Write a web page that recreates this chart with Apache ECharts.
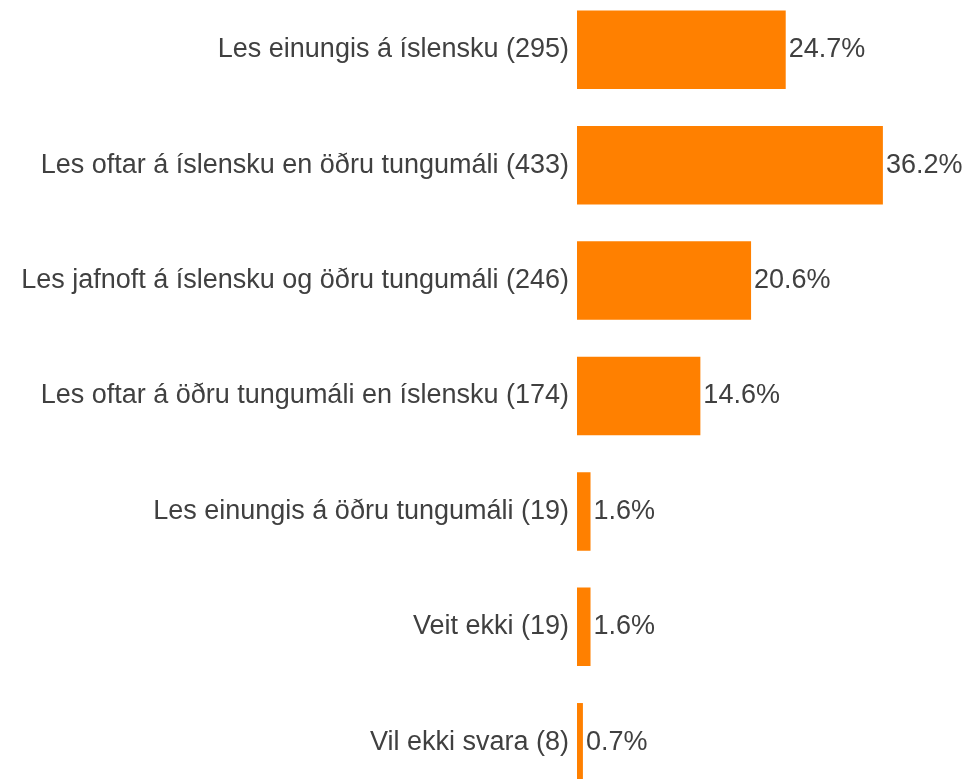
<!DOCTYPE html>
<html>
<head>
<meta charset="utf-8">
<script src="https://cdn.jsdelivr.net/npm/echarts@6/dist/echarts.min.js"></script>
<style>
  html, body { margin: 0; padding: 0; background: #fff; }
  #chart { width: 969px; height: 779px; }
</style>
</head>
<body>
<div id="chart"></div>
<script>
const categories = [
    'Les einungis á íslensku (295)',
    'Les oftar á íslensku en öðru tungumáli (433)',
    'Les jafnoft á íslensku og öðru tungumáli (246)',
    'Les oftar á öðru tungumáli en íslensku (174)',
    'Les einungis á öðru tungumáli (19)',
    'Veit ekki (19)',
    'Vil ekki svara (8)'
];
const percents = [24.7, 36.2, 20.6, 14.6, 1.6, 1.6, 0.7];

const textColor = '#404040';
const barColor = '#ff8000';

let chartDom = document.getElementById('chart');
let myChart = echarts.init(chartDom);

let option = {
    animation: false,
    grid: {
        left: 577,
        top: -8,
        width: 338,
        height: 808,
        outerBoundsMode: 'none',
        containLabel: false
    },
    xAxis: {
        type: 'value',
        min: 0,
        max: 40,
        show: false
    },
    yAxis: {
        type: 'category',
        inverse: true,
        data: categories,
        axisLine: { show: false },
        axisTick: { show: false },
        axisLabel: {
            margin: 8,
            color: textColor,
            fontFamily: 'Liberation Sans',
            fontSize: 27
        }
    },
    series: [{
        type: 'bar',
        data: percents,
        barCategoryGap: '32%',
        itemStyle: { color: barColor },
        label: {
            show: true,
            position: 'right',
            distance: 3,
            color: textColor,
            fontFamily: 'Liberation Sans',
            fontSize: 27,
            formatter: p => p.value.toFixed(1) + '%'
        }
    }]
};

option && myChart.setOption(option);
</script>
</body>
</html>
